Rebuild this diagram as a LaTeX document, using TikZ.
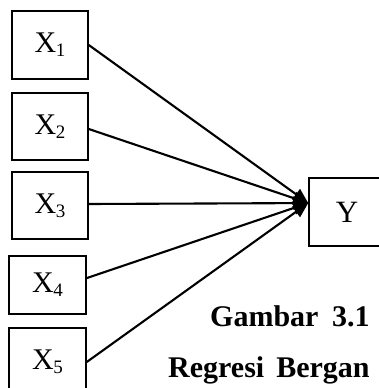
\documentclass[tikz,border=0pt]{standalone}
\usepackage{fontspec}
\setmainfont{Liberation Serif}
\usetikzlibrary{arrows.meta}
\newcommand{\varlab}[1]{\fontsize{30}{30}\selectfont X\kern-0.5pt\raisebox{-4pt}{\fontsize{19}{19}\selectfont #1}}
\begin{document}
\begin{tikzpicture}[x=1pt,y=-1pt,
  varbox/.style={draw,line width=1.5pt,minimum width=76pt,minimum height=68pt,inner sep=0pt},
  link/.style={line width=2.1pt,-{Triangle[length=15pt,width=13pt]}},
  captext/.style={anchor=base west,inner sep=0pt,font=\fontsize{30}{32}\selectfont\bfseries}]
\useasboundingbox (0,0) rectangle (379,388);
\clip (0,0) rectangle (379,388);
\node[varbox] (x1) at (50,45) {\varlab{1}};
\node[varbox,minimum height=67pt] (x2) at (50,126.5) {\varlab{2}};
\node[varbox,minimum height=67pt] (x3) at (50,205.5) {\varlab{3}};
\node[varbox,minimum width=77pt,minimum height=58pt] (x4) at (47.5,285) {\varlab{4}};
\node[varbox,minimum width=77pt] (x5) at (47.5,362) {\varlab{5}};
\node[varbox] (y) at (347,212) {\fontsize{31}{31}\selectfont Y};
\draw[link] (x1.east) -- (y.167);
\draw[link] ([yshift=-2.5pt]x2.east) -- (y.167);
\draw[link] ([yshift=1.5pt]x3.east) -- (y.167);
\draw[link] (x4.10) -- (y.167);
\draw[link] (x5.east) -- (y.167);
\node[captext] (g) at (210,326) {Gambar\hspace{0.45em}3.1};
\node[captext] (r) at (168,377) {Regresi\hspace{0.4em}Bergan};
\end{tikzpicture}
\end{document}
